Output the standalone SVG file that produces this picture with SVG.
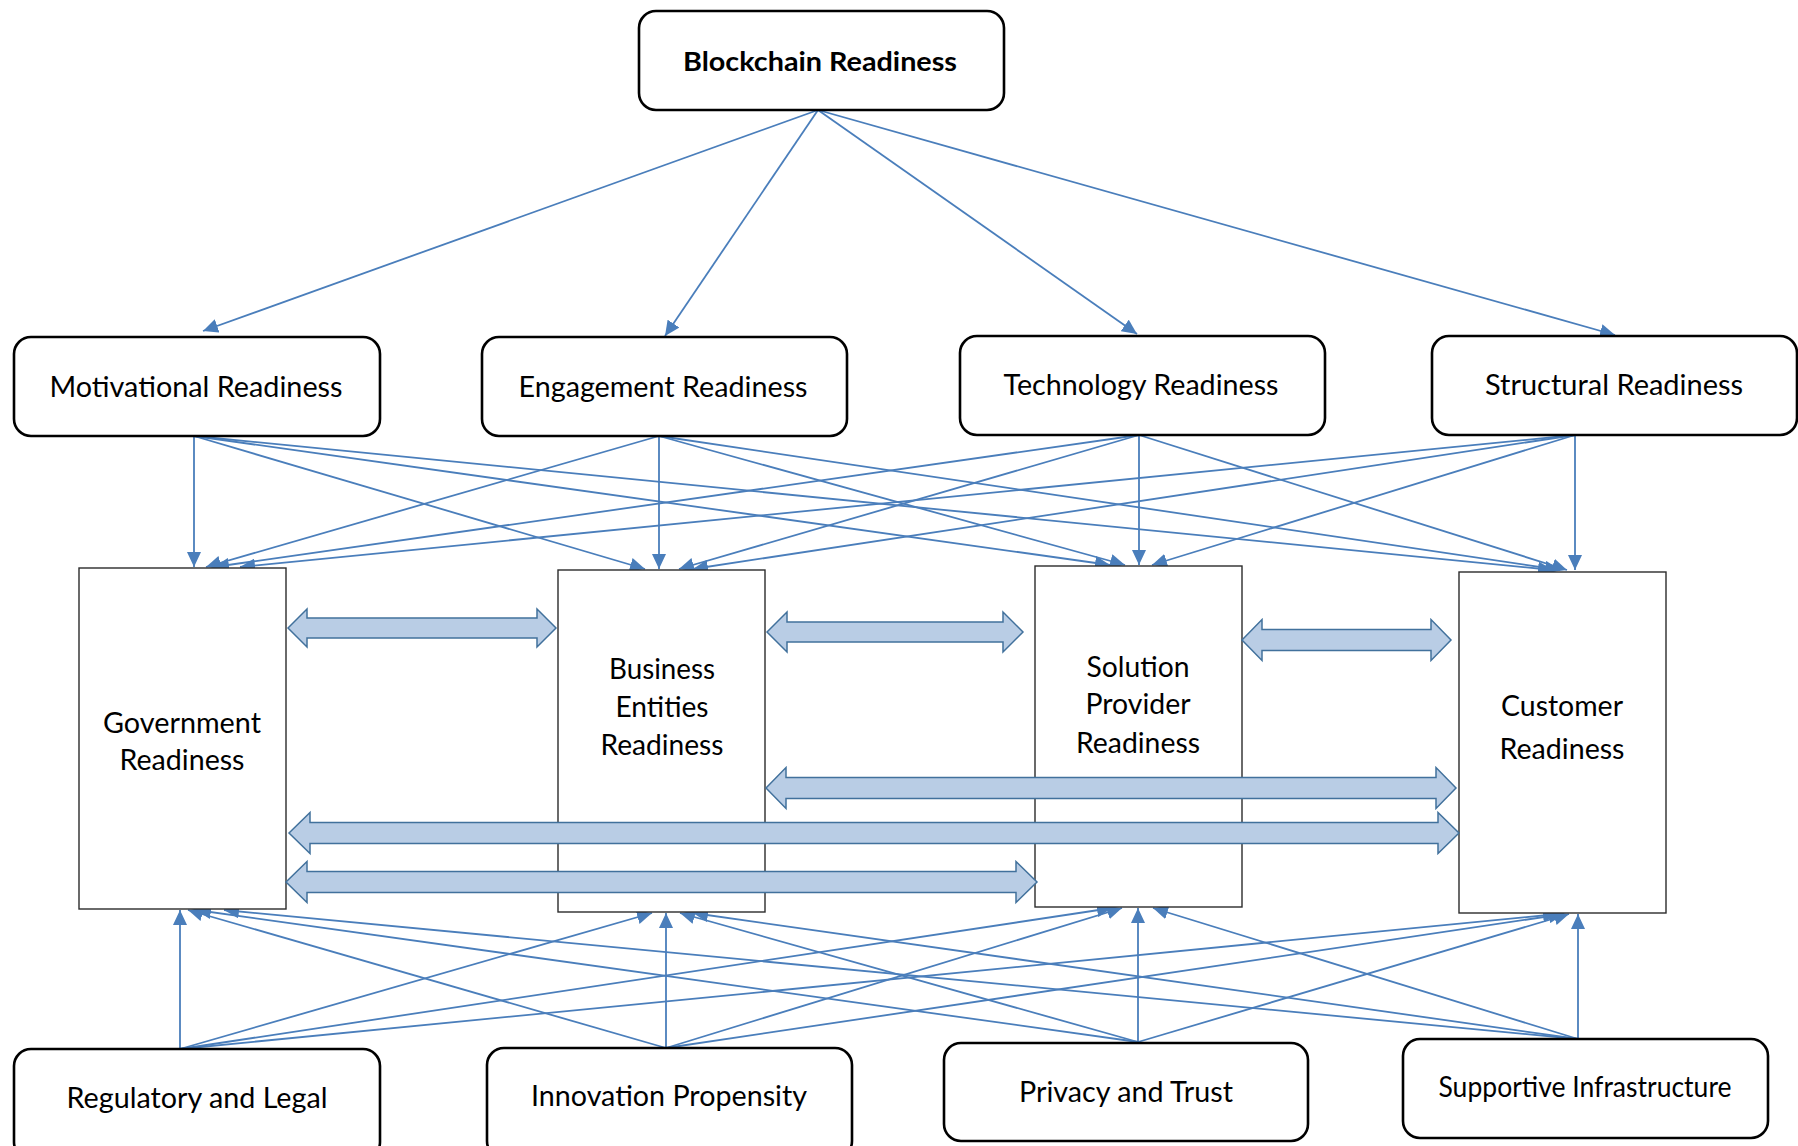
<svg xmlns="http://www.w3.org/2000/svg" width="1798" height="1146" viewBox="0 0 1798 1146">
<style>
.rb{fill:#fff;stroke:#000;stroke-width:2.6}
.mb{fill:#fff;stroke:#2b2b2b;stroke-width:1.4}
.t{font-family:Lato,"Liberation Sans",sans-serif;font-size:29px;fill:#000;text-anchor:middle}
.tb{font-weight:bold;font-size:27px}
.c line{stroke:#4a7ebb;stroke-width:1.8;marker-end:url(#ah)}
.ba{fill:#b9cde5;stroke:#41719c;stroke-width:1.5}
</style>
<defs>
<marker id="ah" markerUnits="userSpaceOnUse" markerWidth="16" markerHeight="14" refX="15" refY="7" orient="auto">
<path d="M0,0 L15,7 L0,14 z" fill="#4a7ebb"/>
</marker>
</defs>
<rect width="1798" height="1146" fill="#fff"/>
<g id="connectors" class="c">
<line x1="818" y1="110" x2="203" y2="331"/>
<line x1="818" y1="110" x2="665" y2="336"/>
<line x1="818" y1="110" x2="1137" y2="334"/>
<line x1="818" y1="110" x2="1615" y2="335"/>
<line x1="194" y1="436" x2="194" y2="567"/>
<line x1="194" y1="436" x2="645" y2="569"/>
<line x1="194" y1="436" x2="1110" y2="565"/>
<line x1="194" y1="436" x2="1553" y2="570"/>
<line x1="659" y1="436" x2="206" y2="567"/>
<line x1="659" y1="436" x2="659" y2="569"/>
<line x1="659" y1="436" x2="1125" y2="565"/>
<line x1="659" y1="436" x2="1560" y2="570"/>
<line x1="1139" y1="435" x2="214" y2="567"/>
<line x1="1139" y1="435" x2="679" y2="569"/>
<line x1="1139" y1="435" x2="1139" y2="565"/>
<line x1="1139" y1="435" x2="1567" y2="570"/>
<line x1="1575" y1="435" x2="240" y2="567"/>
<line x1="1575" y1="435" x2="693" y2="569"/>
<line x1="1575" y1="435" x2="1152" y2="565"/>
<line x1="1575" y1="435" x2="1575" y2="570"/>
<line x1="180" y1="1049" x2="180" y2="910"/>
<line x1="180" y1="1049" x2="652" y2="913"/>
<line x1="180" y1="1049" x2="1112" y2="908"/>
<line x1="180" y1="1049" x2="1558" y2="914"/>
<line x1="666" y1="1048" x2="188" y2="910"/>
<line x1="666" y1="1048" x2="666" y2="913"/>
<line x1="666" y1="1048" x2="1122" y2="908"/>
<line x1="666" y1="1048" x2="1564" y2="914"/>
<line x1="1138" y1="1042" x2="196" y2="910"/>
<line x1="1138" y1="1042" x2="680" y2="913"/>
<line x1="1138" y1="1042" x2="1138" y2="908"/>
<line x1="1138" y1="1042" x2="1569" y2="914"/>
<line x1="1578" y1="1039" x2="224" y2="910"/>
<line x1="1578" y1="1039" x2="693" y2="913"/>
<line x1="1578" y1="1039" x2="1153" y2="908"/>
<line x1="1578" y1="1039" x2="1578" y2="914"/>
</g>
<g id="government"><rect class="mb" x="79" y="568" width="207" height="341"/><text class="t" x="182" y="733" textLength="158" lengthAdjust="spacingAndGlyphs">Government</text><text class="t" x="182" y="770" textLength="125" lengthAdjust="spacingAndGlyphs">Readiness</text></g>
<g id="business"><rect class="mb" x="558" y="570" width="207" height="342"/><text class="t" x="662" y="679" textLength="106" lengthAdjust="spacingAndGlyphs">Business</text><text class="t" x="662" y="717" textLength="93" lengthAdjust="spacingAndGlyphs">Entities</text><text class="t" x="662" y="755" textLength="123" lengthAdjust="spacingAndGlyphs">Readiness</text></g>
<g id="solution"><rect class="mb" x="1035" y="566" width="207" height="341"/><text class="t" x="1138" y="677" textLength="103" lengthAdjust="spacingAndGlyphs">Solution</text><text class="t" x="1138" y="714" textLength="105" lengthAdjust="spacingAndGlyphs">Provider</text><text class="t" x="1138" y="753" textLength="124" lengthAdjust="spacingAndGlyphs">Readiness</text></g>
<g id="customer"><rect class="mb" x="1459" y="572" width="207" height="341"/><text class="t" x="1562" y="716" textLength="122" lengthAdjust="spacingAndGlyphs">Customer</text><text class="t" x="1562" y="759" textLength="125" lengthAdjust="spacingAndGlyphs">Readiness</text></g>
<g id="block-arrows">
<polygon class="ba" points="288,628 307,609 307,618 537,618 537,609 556,628 537,647 537,638 307,638 307,647"/>
<polygon class="ba" points="767,632 787,612 787,622 1003,622 1003,612 1023,632 1003,652 1003,642 787,642 787,652"/>
<polygon class="ba" points="1242,640 1262,619.5 1262,629.5 1431,629.5 1431,619.5 1451,640 1431,660.5 1431,650.5 1262,650.5 1262,660.5"/>
<polygon class="ba" points="766,788 786,767.5 786,777.5 1436,777.5 1436,767.5 1456,788 1436,808.5 1436,798.5 786,798.5 786,808.5"/>
<polygon class="ba" points="289,833 310,812.5 310,822.5 1438,822.5 1438,812.5 1459,833 1438,853.5 1438,843.5 310,843.5 310,853.5"/>
<polygon class="ba" points="286,882 307,861.5 307,871.5 1016,871.5 1016,861.5 1037,882 1016,902.5 1016,892.5 307,892.5 307,902.5"/>
</g>
<g id="blockchain"><rect class="rb" x="639" y="11" width="365" height="99" rx="17"/><text class="t tb" x="820" y="71" textLength="274" lengthAdjust="spacingAndGlyphs">Blockchain Readiness</text></g>
<g id="motivational"><rect class="rb" x="14" y="337" width="366" height="99" rx="17"/><text class="t" x="196" y="397" textLength="293" lengthAdjust="spacingAndGlyphs">Motivational Readiness</text></g>
<g id="engagement"><rect class="rb" x="482" y="337" width="365" height="99" rx="17"/><text class="t" x="663" y="397" textLength="289" lengthAdjust="spacingAndGlyphs">Engagement Readiness</text></g>
<g id="technology"><rect class="rb" x="960" y="336" width="365" height="99" rx="17"/><text class="t" x="1141" y="395" textLength="275" lengthAdjust="spacingAndGlyphs">Technology Readiness</text></g>
<g id="structural"><rect class="rb" x="1432" y="336" width="365" height="99" rx="17"/><text class="t" x="1614" y="395" textLength="258" lengthAdjust="spacingAndGlyphs">Structural Readiness</text></g>
<g id="regulatory"><rect class="rb" x="14" y="1049" width="366" height="110" rx="17"/><text class="t" x="197" y="1108" textLength="261" lengthAdjust="spacingAndGlyphs">Regulatory and Legal</text></g>
<g id="innovation"><rect class="rb" x="487" y="1048" width="365" height="110" rx="17"/><text class="t" x="669" y="1106" textLength="276" lengthAdjust="spacingAndGlyphs">Innovation Propensity</text></g>
<g id="privacy"><rect class="rb" x="944" y="1043" width="364" height="98" rx="17"/><text class="t" x="1126" y="1102" textLength="214" lengthAdjust="spacingAndGlyphs">Privacy and Trust</text></g>
<g id="supportive"><rect class="rb" x="1403" y="1039" width="365" height="99" rx="17"/><text class="t" x="1585" y="1097" font-size="27" textLength="293" lengthAdjust="spacingAndGlyphs">Supportive Infrastructure</text></g>
</svg>
